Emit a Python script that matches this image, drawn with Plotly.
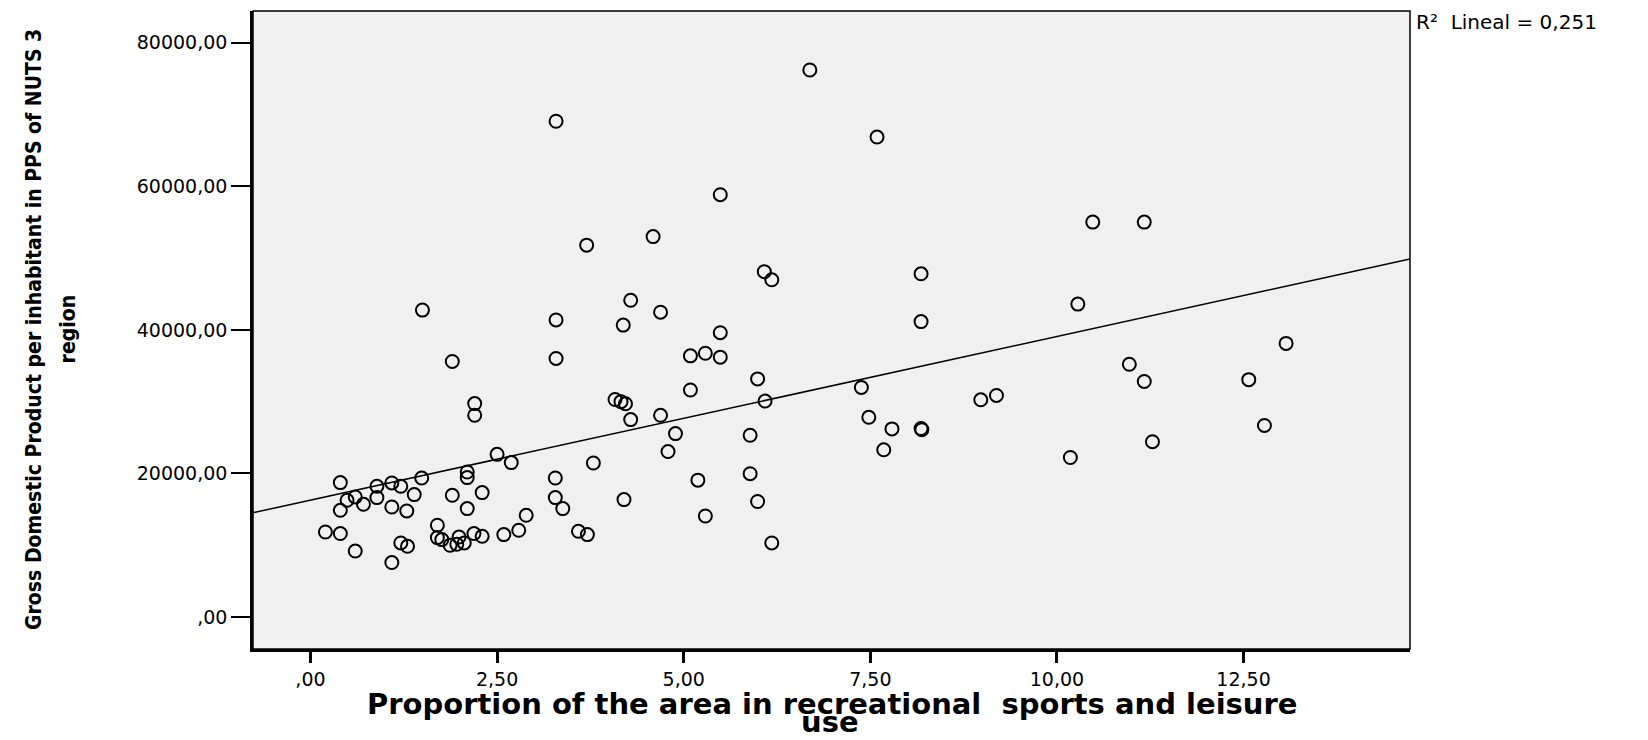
import numpy as np
import plotly.graph_objects as go

# Proportion of the area in recreational, sports and leisure use (%)
prop_area = [
    0.20, 0.40, 0.60, 1.09, 1.21, 1.30, 0.40, 0.40, 0.49, 0.60,
    0.71, 0.89, 0.89, 1.09, 1.21, 1.09, 1.29, 1.39, 1.49, 1.90,
    2.10, 2.10, 2.10, 2.30, 2.50, 2.69, 2.20, 2.20, 1.50, 1.90,
    1.70, 1.70, 1.76, 1.87, 1.99, 1.96, 2.06, 2.19, 2.30, 2.59,
    2.79, 2.89, 3.28, 3.28, 3.38, 3.79, 4.20, 3.59, 3.71, 4.08,
    4.16, 4.22, 4.29, 4.69, 4.89, 4.79, 5.19, 3.29, 3.70, 4.59,
    4.29, 4.69, 3.29, 4.19, 3.29, 5.09, 5.29, 5.49, 5.49, 5.09,
    5.29, 5.49, 6.69, 7.59, 6.08, 6.18, 8.18, 8.18, 5.99, 6.09,
    7.38, 7.48, 7.79, 8.18, 8.19, 7.68, 5.89, 5.89, 5.99, 6.18,
    10.48, 11.17, 10.28, 10.97, 11.17, 8.98, 9.19, 10.18, 11.28, 13.07,
    12.57, 12.78,
]

# Gross Domestic Product per inhabitant in PPS of NUTS 3 region
gdp_pps = [
    11840, 11620, 9190, 7580, 10310, 9850, 18720, 14860, 16260, 16720,
    15700, 16630, 18210, 18670, 18210, 15320, 14770, 17050, 19360, 16950,
    15100, 20200, 19420, 17330, 22660, 21510, 29730, 28100, 42750, 35600,
    12780, 11060, 10780, 9990, 11140, 10130, 10310, 11620, 11240, 11480,
    12080, 14170, 19360, 16630, 15100, 21450, 16350, 11940, 11480, 30300,
    30000, 29700, 27500, 28100, 25550, 23050, 19060, 69060, 51800, 52990,
    44120, 42460, 41380, 40660, 36020, 36380, 36740, 36200, 39600, 31620,
    14070, 58830, 76200, 66860, 48110, 46970, 47810, 41150, 33170, 30080,
    31980, 27820, 26200, 26250, 26100, 23290, 25310, 19960, 16090, 10310,
    55010, 55010, 43590, 35200, 32810, 30260, 30860, 22220, 24420, 38110,
    33060, 26680,
]

x_tick_vals = [0, 2.5, 5, 7.5, 10, 12.5]
x_tick_text = [",00", "2,50", "5,00", "7,50", "10,00", "12,50"]
y_tick_vals = [0, 20000, 40000, 60000, 80000]
y_tick_text = [",00", "20000,00", "40000,00", "60000,00", "80000,00"]

x_range = [-0.77, 14.73]
y_range = [-4460, 84420]

r2_label = "R²\u00a0 Lineal = 0,251"
x_title_1 = "Proportion of the area in recreational\u00a0 sports and leisure"
x_title_2 = "use"
y_title_1 = "Gross Domestic Product per inhabitant in PPS of NUTS 3"
y_title_2 = "region"

# Linear fit (least squares) drawn across the whole x axis
slope, intercept = np.polyfit(prop_area, gdp_pps, 1)
fit_x = np.array(x_range)
fit_y = intercept + slope * fit_x

fig = go.Figure()
fig.add_trace(go.Scatter(
    x=fit_x, y=fit_y, mode="lines",
    line=dict(color="black", width=1.5),
    hoverinfo="skip", showlegend=False,
))
fig.add_trace(go.Scatter(
    x=prop_area, y=gdp_pps, mode="markers",
    marker=dict(symbol="circle-open", size=13, color="black",
                line=dict(width=2, color="black")),
    showlegend=False,
))

tick_font = dict(family="DejaVu Sans", size=19, color="black")
title_font_h = dict(family="DejaVu Sans", size=29, color="black", weight="bold")
title_font_v = dict(family="DejaVu Sans Condensed, DejaVu Sans, sans-serif",
                    size=21, color="black", weight="bold")

fig.update_layout(
    width=1648, height=740,
    margin=dict(l=253, r=238, t=11, b=91),
    paper_bgcolor="white",
    plot_bgcolor="#F0F0F0",
    xaxis=dict(
        range=x_range, tickvals=x_tick_vals, ticktext=x_tick_text,
        ticks="outside", ticklen=11, tickwidth=3, tickcolor="black",
        showline=True, linecolor="black", linewidth=2.5,
        showgrid=False, zeroline=False, tickfont=tick_font,
    ),
    yaxis=dict(
        range=y_range, tickvals=y_tick_vals, ticktext=y_tick_text,
        ticks="outside", ticklen=19, tickwidth=2, tickcolor="black",
        showline=True, linecolor="black", linewidth=2.5,
        showgrid=False, zeroline=False, tickfont=tick_font,
    ),
    shapes=[dict(type="rect", xref="paper", yref="paper", x0=0, x1=1, y0=0, y1=1,
                 line=dict(color="black", width=1.5), layer="above")],
    annotations=[
        dict(text=x_title_1, xref="paper", yref="paper", x=0.5, y=-0.086,
             xanchor="center", yanchor="middle", showarrow=False, font=title_font_h),
        dict(text=x_title_2, xref="paper", yref="paper", x=0.4987, y=-0.1145,
             xanchor="center", yanchor="middle", showarrow=False, font=title_font_h),
        dict(text=y_title_1, xref="paper", yref="paper", x=-0.1893, y=0.5016,
             xanchor="center", yanchor="middle", showarrow=False, textangle=-90,
             font=title_font_v),
        dict(text=y_title_2, xref="paper", yref="paper", x=-0.1595, y=0.5016,
             xanchor="center", yanchor="middle", showarrow=False, textangle=-90,
             font=title_font_v),
        dict(text=r2_label, xref="paper", yref="paper", x=1.0035, y=0.9828,
             xanchor="left", yanchor="middle", showarrow=False,
             font=dict(family="DejaVu Sans", size=20, color="black")),
    ],
)

fig.write_html("out.html")
